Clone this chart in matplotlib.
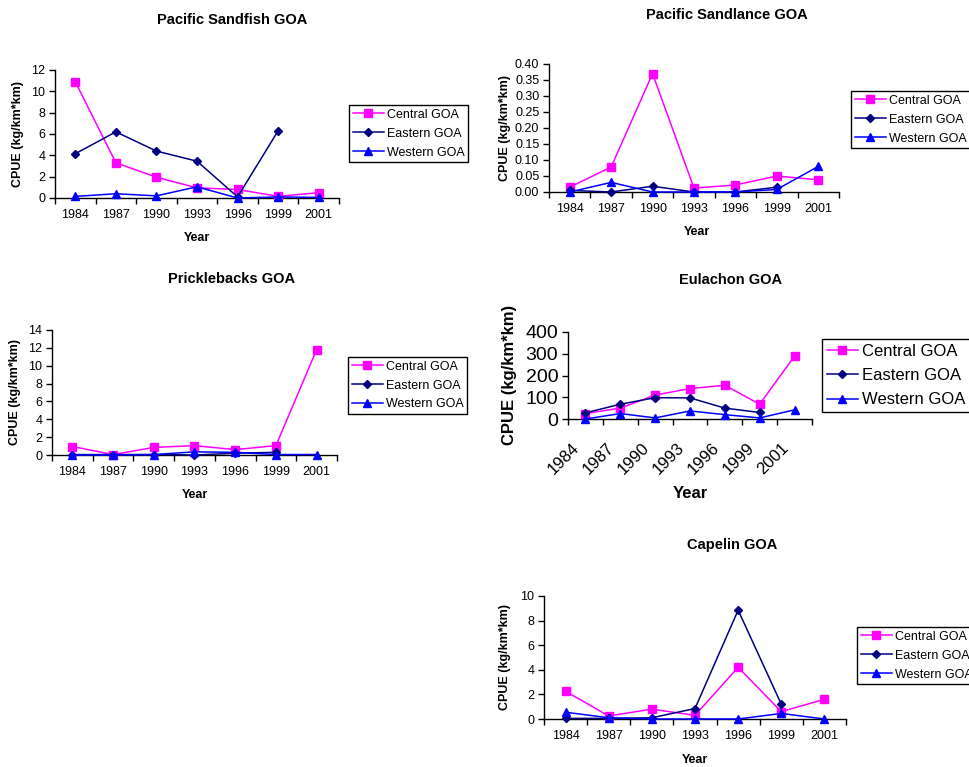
import matplotlib
matplotlib.use("Agg")
import matplotlib.pyplot as plt
from matplotlib.ticker import FormatStrFormatter, MultipleLocator
from matplotlib.transforms import ScaledTranslation

plt.rcParams['font.family'] = ['Liberation Sans', 'DejaVu Sans']

W, H = 970, 767

years = ["1984", "1987", "1990", "1993", "1996", "1999", "2001"]
series_names = ["Central GOA", "Eastern GOA", "Western GOA"]
series_colors = ["#FF00FF", "#000080", "#0000FF"]
series_markers = ["s", "D", "^"]
series_msize = [5.5, 4.5, 6]

# CPUE values per region; None marks a year with no survey value
sandfish_central = [10.9, 3.3, 1.95, 0.95, 0.8, 0.15, 0.5]
sandfish_eastern = [4.15, 6.2, 4.4, 3.45, 0.1, 6.3, None]
sandfish_western = [0.15, 0.4, 0.2, 1.05, 0.0, 0.1, 0.05]

sandlance_central = [0.015, 0.078, 0.37, 0.012, 0.022, 0.05, 0.038]
sandlance_eastern = [0.005, 0.0, 0.018, 0.0, 0.0, 0.015, None]
sandlance_western = [0.0, 0.03, 0.0, 0.0, 0.0, 0.008, 0.08]

prickle_central = [0.95, 0.05, 0.85, 1.05, 0.6, 1.05, 11.8]
prickle_eastern = [0.05, 0.05, 0.05, 0.0, 0.2, 0.3, None]
prickle_western = [0.0, 0.0, 0.05, 0.35, 0.3, 0.05, 0.05]

eulachon_central = [25, 50, 110, 140, 155, 68, 290]
eulachon_eastern = [28, 68, 98, 97, 50, 30, None]
eulachon_western = [0, 25, 5, 37, 20, 5, 42]

capelin_central = [2.25, 0.25, 0.8, 0.3, 4.2, 0.6, 1.6]
capelin_eastern = [0.05, 0.05, 0.1, 0.85, 8.85, 1.2, None]
capelin_western = [0.55, 0.1, 0.0, 0.0, 0.0, 0.45, 0.0]

fig = plt.figure(figsize=(W / 100, H / 100), dpi=100)


def px_axes(x0, y0, x1, y1):
    return fig.add_axes([x0 / W, 1 - y1 / H, (x1 - x0) / W, (y1 - y0) / H])


def draw_panel(box, data, ymax, ystep, title, title_xy, ylab_xy, year_xy,
               legend_xy, tick_fs=9, xtick_fs=None, leg_fs=9, lab_fs=9,
               yfmt=None, rotate=False):
    ax = px_axes(*box)
    xs = list(range(len(years)))
    for vals, name, c, m, ms in zip(data, series_names, series_colors,
                                    series_markers, series_msize):
        px = [x for x, v in zip(xs, vals) if v is not None]
        py = [v for v in vals if v is not None]
        ax.plot(px, py, color=c, lw=1.1, marker=m, markersize=ms,
                markerfacecolor=c, markeredgecolor=c, label=name,
                clip_on=False, zorder=3)
    ax.set_xlim(-0.5, len(years) - 0.5)
    ax.set_ylim(0, ymax)
    ax.yaxis.set_major_locator(MultipleLocator(ystep))
    if yfmt:
        ax.yaxis.set_major_formatter(FormatStrFormatter(yfmt))
    for s in ("top", "right"):
        ax.spines[s].set_visible(False)
    for s in ("left", "bottom"):
        ax.spines[s].set_linewidth(1.0)
    xtick_fs = xtick_fs or tick_fs
    # tick marks sit between categories, labels at category centres
    ax.set_xticks([i - 0.5 for i in range(len(years) + 1)])
    ax.set_xticklabels([])
    ax.set_xticks(xs, minor=True)
    if rotate:
        labels = ax.set_xticklabels(years, minor=True, rotation=45,
                                    ha="right", va="baseline",
                                    rotation_mode="anchor", fontsize=xtick_fs)
        ax.tick_params(axis="x", which="minor", length=0, pad=21.5)
        shift = ScaledTranslation(-5 / 100, 0, fig.dpi_scale_trans)
        for lab in labels:
            lab.set_transform(lab.get_transform() + shift)
    else:
        ax.set_xticklabels(years, minor=True, fontsize=xtick_fs)
        ax.tick_params(axis="x", which="minor", length=0, pad=8)
    ax.tick_params(axis="x", which="major", direction="out", length=4,
                   width=1.0)
    ax.tick_params(axis="y", direction="out", length=4, width=1.0, pad=3,
                   labelsize=tick_fs)
    fig.text(title_xy[0] / W, 1 - title_xy[1] / H, title, ha="center",
             va="center", fontsize=10.5, fontweight="bold")
    fig.text(ylab_xy[0] / W, 1 - ylab_xy[1] / H, "CPUE (kg/km*km)",
             ha="center", va="center", rotation=90, fontsize=lab_fs,
             fontweight="bold")
    fig.text(year_xy[0] / W, 1 - year_xy[1] / H, "Year", ha="center",
             va="center", fontsize=lab_fs, fontweight="bold")
    fs_px = leg_fs * 100 / 72
    leg = ax.legend(loc="upper left",
                    bbox_to_anchor=(legend_xy[0] / W, 1 - legend_xy[1] / H),
                    bbox_transform=fig.transFigure, fontsize=leg_fs,
                    frameon=True, fancybox=False, framealpha=1,
                    edgecolor="black", handlelength=31 / fs_px,
                    handletextpad=0.25, borderpad=0.3, borderaxespad=0,
                    labelspacing=0.55)
    leg.get_frame().set_linewidth(1.0)
    return ax


draw_panel((55, 70, 339, 198),
           [sandfish_central, sandfish_eastern, sandfish_western],
           12, 2, "Pacific Sandfish GOA", (232, 20), (18, 134), (197, 238),
           (349, 105))

draw_panel((549, 64, 839, 192),
           [sandlance_central, sandlance_eastern, sandlance_western],
           0.40, 0.05, "Pacific Sandlance GOA", (727, 15), (505, 128),
           (697, 232), (851, 91), yfmt="%.2f")

draw_panel((52, 330, 337, 455),
           [prickle_central, prickle_eastern, prickle_western],
           14, 2, "Pricklebacks GOA", (232, 279), (15, 392), (195, 495),
           (348, 357))

draw_panel((568, 332, 812, 419),
           [eulachon_central, eulachon_eastern, eulachon_western],
           400, 100, "Eulachon GOA", (731, 280), (510, 375), (690, 493),
           (822, 339), tick_fs=14, xtick_fs=12, leg_fs=12, lab_fs=12,
           rotate=True)

draw_panel((544, 596, 846, 719),
           [capelin_central, capelin_eastern, capelin_western],
           10, 2, "Capelin GOA", (732, 545), (505, 657), (695, 760),
           (857, 627))

fig.savefig("out.png", dpi=100, facecolor="white")
